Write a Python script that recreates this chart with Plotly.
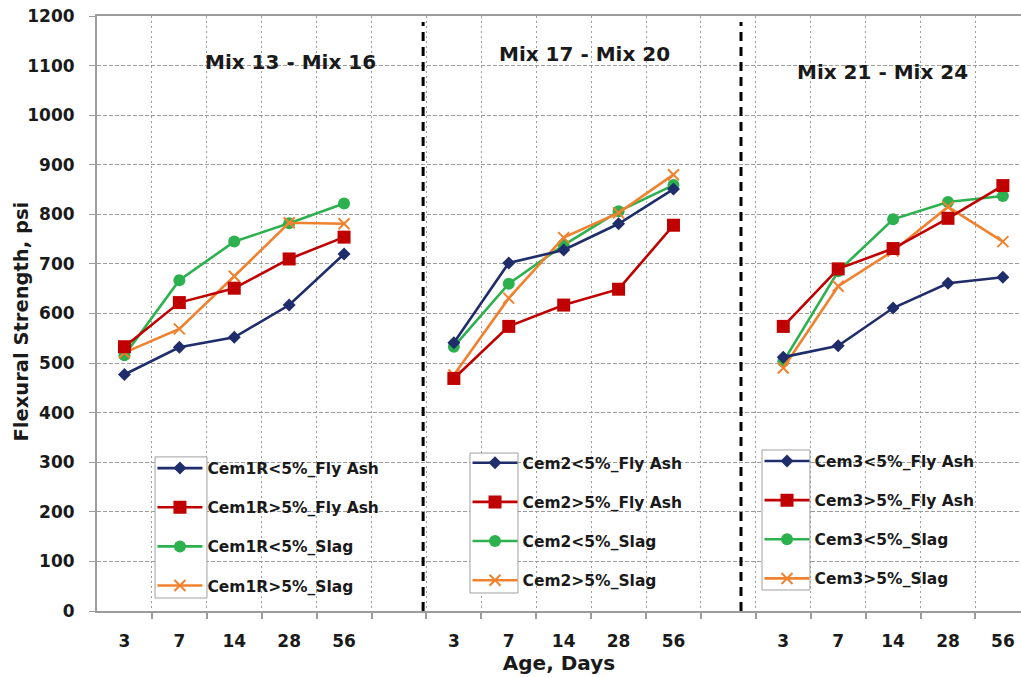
import plotly.graph_objects as go

# Curing ages (days) shown on each of the three panels
ages = ["3", "7", "14", "28", "56"]
panel_titles = ["Mix 13 - Mix 16", "Mix 17 - Mix 20", "Mix 21 - Mix 24"]
cements = ["Cem1R", "Cem2", "Cem3"]
series_suffix = ["<5%_Fly Ash", ">5%_Fly Ash", "<5%_Slag", ">5%_Slag"]

# Flexural strength (psi) per panel, one list per series
cem1r_fly_lo = [477, 532, 552, 617, 720]
cem1r_fly_hi = [533, 622, 651, 710, 754]
cem1r_slag_lo = [516, 667, 745, 782, 822]
cem1r_slag_hi = [521, 569, 675, 783, 781]

cem2_fly_lo = [541, 702, 728, 781, 851]
cem2_fly_hi = [469, 574, 617, 649, 778]
cem2_slag_lo = [533, 660, 738, 806, 859]
cem2_slag_hi = [476, 631, 753, 803, 880]

cem3_fly_lo = [512, 535, 611, 661, 673]
cem3_fly_hi = [574, 690, 731, 792, 858]
cem3_slag_lo = [503, 685, 790, 825, 837]
cem3_slag_hi = [490, 655, 726, 815, 745]

panels = [
    [cem1r_fly_lo, cem1r_fly_hi, cem1r_slag_lo, cem1r_slag_hi],
    [cem2_fly_lo, cem2_fly_hi, cem2_slag_lo, cem2_slag_hi],
    [cem3_fly_lo, cem3_fly_hi, cem3_slag_lo, cem3_slag_hi],
]

# Category slots: 5 ages per panel, one empty slot between panels
SLOTS_PER_PANEL = len(ages) + 1
n_slots = SLOTS_PER_PANEL * len(panels) - 1

FONT = "DejaVu Sans"
GRID = "#9c9c9c"
TEXT = "#1a1a1a"
colors = ["#1f2d6b", "#c00000", "#2db04e", "#f0822f"]
symbols = ["diamond", "square", "circle", "x-thin"]
sizes = [10, 13, 12, 11]
# drawing order (bottom to top) and legend order
draw_order = [2, 3, 1, 0]

fig = go.Figure()
legend_ids = ["legend", "legend2", "legend3"]
for p, series in enumerate(panels):
    xs = [p * SLOTS_PER_PANEL + i for i in range(len(ages))]
    for s in draw_order:
        sym_line = dict(width=2, color=colors[s]) if symbols[s] == "x-thin" else dict(width=0)
        fig.add_trace(go.Scatter(
            x=xs, y=series[s], mode="lines+markers",
            name=cements[p] + series_suffix[s],
            line=dict(color=colors[s], width=2.6),
            marker=dict(symbol=symbols[s], size=sizes[s], color=colors[s], line=sym_line),
            legend=legend_ids[p], legendgroup=f"p{p}s{s}", legendrank=s + 1,
        ))

x_range = [-0.5, 16.33]
boundaries = [k - 0.5 for k in range(1, n_slots + 1)]
centers = [p * SLOTS_PER_PANEL + i for p in range(len(panels)) for i in range(len(ages))]
center_text = ages * len(panels)

# empty trace so the labelled category axis is laid out
fig.add_trace(go.Scatter(x=[], y=[], xaxis="x2", yaxis="y", showlegend=False, hoverinfo="skip"))

tick_font = dict(family=FONT, size=17, color=TEXT, weight="bold")

# panel separators (x positions in slot units)
separators = [5.44, 11.23]
shapes = [
    dict(type="line", xref="x", yref="paper", x0=xv, x1=xv, y0=0, y1=0.99,
         line=dict(color="black", width=3, dash="9px,6px"))
    for xv in separators
]

# legend frames in paper coordinates
legend_frames = [
    (0.0628, 0.119, 0.0218, 0.259),
    (0.4037, 0.4556, 0.0303, 0.2655),
    (0.7197, 0.7716, 0.0353, 0.2706),
]
for x0, x1, y0, y1 in legend_frames:
    shapes.append(dict(type="rect", xref="paper", yref="paper", x0=x0, x1=x1, y0=y0, y1=y1,
                       fillcolor="white", line=dict(color="#a0a0a0", width=1), layer="above"))

title_pos = [(0.2089, 0.9227), (0.528, 0.936), (0.8506, 0.906)]
annotations = [
    dict(text=t, x=xp, y=yp, xref="paper", yref="paper", showarrow=False,
         xanchor="center", yanchor="middle",
         font=dict(family=FONT, size=20, color=TEXT, weight="bold"))
    for t, (xp, yp) in zip(panel_titles, title_pos)
]
# vertical axis title
annotations.append(dict(
    text="Flexural Strength, psi", x=-0.082, y=0.487, xref="paper", yref="paper",
    showarrow=False, textangle=-90, xanchor="center", yanchor="middle",
    font=dict(family=FONT, size=19.5, color=TEXT, weight="bold"),
))

legend_common = dict(
    bgcolor="rgba(0,0,0,0)", borderwidth=0, xanchor="left", yanchor="top",
    font=dict(family=FONT, size=15.5, color=TEXT, weight="bold"),
    tracegroupgap=16, itemwidth=45, traceorder="grouped",
)
legend_pos = [(0.060, 0.268), (0.401, 0.277), (0.717, 0.280)]

fig.update_layout(
    width=1021, height=677,
    margin=dict(l=97, r=0, t=16, b=66),
    plot_bgcolor="white", paper_bgcolor="white",
    showlegend=True,
    xaxis=dict(
        range=x_range, tickmode="array", tickvals=boundaries, showticklabels=False,
        ticks="outside", ticklen=6, tickcolor=GRID, tickwidth=1.5,
        showgrid=True, gridcolor=GRID, griddash="2px,3px", gridwidth=1.3,
        showline=True, linecolor=GRID, linewidth=2, mirror=True, zeroline=False,
    ),
    xaxis2=dict(
        overlaying="x", anchor="y", side="bottom", range=x_range,
        tickmode="array", tickvals=centers, ticktext=center_text, ticks="",
        showgrid=False, showline=False, zeroline=False, tickfont=tick_font,
        ticklabelstandoff=18,
        title=dict(text="Age, Days", font=dict(family=FONT, size=20, color=TEXT, weight="bold"),
                   standoff=4),
    ),
    yaxis=dict(
        range=[0, 1200], dtick=100, tickfont=tick_font,
        ticks="outside", ticklen=6, tickcolor=GRID, ticklabelstandoff=11,
        showgrid=True, gridcolor=GRID, griddash="4px,2px", gridwidth=1.3,
        showline=True, linecolor=GRID, linewidth=2, zeroline=False,
    ),
    shapes=shapes,
    annotations=annotations,
    legend=dict(x=legend_pos[0][0], y=legend_pos[0][1], **legend_common),
    legend2=dict(x=legend_pos[1][0], y=legend_pos[1][1], **legend_common),
    legend3=dict(x=legend_pos[2][0], y=legend_pos[2][1], **legend_common),
)

fig.write_html("out.html")
